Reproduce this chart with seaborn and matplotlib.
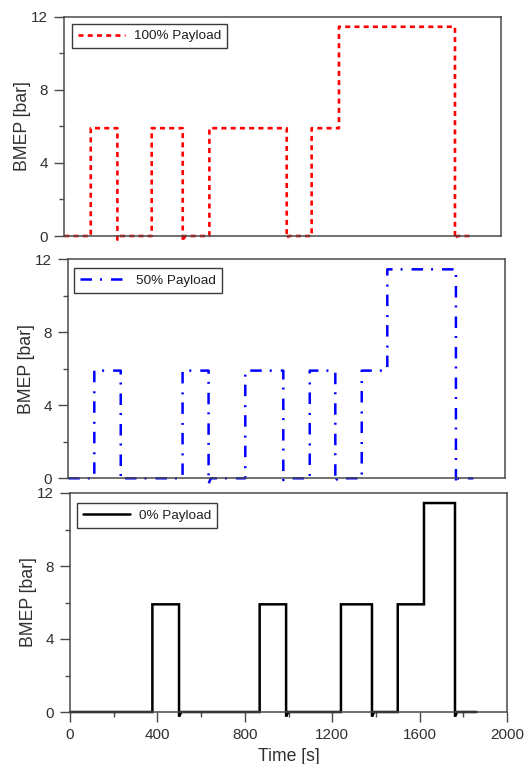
import numpy as np
import pandas as pd
import matplotlib
matplotlib.use("Agg")
import matplotlib.pyplot as plt
import seaborn as sns

# Duty-cycle step profiles: switching instants [s] and BMEP level [bar] held after each switch
t_100 = [121, 243, 400, 542, 664, 1018, 1132, 1257, 1788]
bmep_100 = [5.9, 0, 5.9, 0, 5.9, 0, 5.9, 11.45, 0]
end_100 = 1860

t_50 = [119, 240, 523, 642, 810, 984, 1105, 1222, 1343, 1460, 1774]
bmep_50 = [5.9, 0, 5.9, 0, 5.9, 0, 5.9, 0, 5.9, 11.45, 0]
end_50 = 1854

t_0 = [377, 499, 868, 989, 1240, 1382, 1500, 1620, 1762]
bmep_0 = [5.9, 0, 5.9, 0, 5.9, 0, 5.9, 11.45, 0]
end_0 = 1861

# short negative undershoot recorded right after each load drop
dip_100 = [-0.2, -0.3, -0.1, -0.15]
dip_50 = [-0.1, -0.3, -0.1, -0.2, -0.3]
dip_0 = [-0.25, -0.25, -0.25, -0.25]

labels = ["100% Payload", "50% Payload", "0% Payload"]
x_ticks = [0, 400, 800, 1200, 1600, 2000]
y_ticks = [0, 4, 8, 12]


def step_trace(times, levels, dips, t_end):
    """Build the time trace of a step profile (vertical edges at each switch)."""
    ts, vs = [0.0], [0.0]
    prev = 0.0
    k = 0
    for t, lv in zip(times, levels):
        ts += [t, t]
        vs += [prev, lv]
        if lv == 0 and prev > 0:
            d = dips[k]
            k += 1
            ts[-1], vs[-1] = t, d
            ts += [t + 10]
            vs += [0.0]
        prev = lv
    ts.append(t_end)
    vs.append(prev)
    return pd.DataFrame({"Time": ts, "BMEP": vs})


sns.set_style("ticks")
plt.rcParams["font.family"] = ["Liberation Sans", "DejaVu Sans"]
txt = "#303030"
spine_c = "#4a4a4a"

W, H = 524, 764
fig = plt.figure(figsize=(W / 100, H / 100), dpi=100)


def rect(l, t, r, b):
    return [l / W, 1 - b / H, (r - l) / W, (b - t) / H]


axes = [
    fig.add_axes(rect(64.3, 16.7, 501.3, 236.0)),
    fig.add_axes(rect(68.3, 259.3, 505.3, 478.3)),
    fig.add_axes(rect(70.0, 493.0, 507.0, 712.0)),
]

series = [
    (step_trace(t_100, bmep_100, dip_100, end_100), "#ff0000", (0, (1.9, 1.6)), 1.9),
    (step_trace(t_50, bmep_50, dip_50, end_50), "#0000ff", (0, (4.6, 3.2, 0.8, 3.6)), 1.8),
    (step_trace(t_0, bmep_0, dip_0, end_0), "#000000", "-", 1.8),
]
legend_anchor = [(0.0176, 0.967), (0.013, 0.960), (0.016, 0.954)]

for i, (ax, (df, col, ls, lw), lab) in enumerate(zip(axes, series, labels)):
    sns.lineplot(data=df, x="Time", y="BMEP", estimator=None, sort=False,
                 ax=ax, color=col, lw=lw, label=lab)
    line = ax.lines[-1]
    line.set_linestyle(ls)
    line.set_clip_on(False)
    line.set_solid_joinstyle("miter")

    ax.set_xlim(0, 2000)
    ax.set_ylim(0, 12)
    ax.set_yticks(y_ticks)
    ax.set_yticks([2, 6, 10], minor=True)
    ax.set_xticks(x_ticks)
    ax.set_xticks([200, 600, 1000, 1400, 1800], minor=True)
    ax.tick_params(axis="both", which="major", direction="out", length=7.5,
                   width=1.0, color=spine_c, labelsize=11, labelcolor=txt, pad=4)
    ax.tick_params(axis="both", which="minor", direction="out", length=3.6,
                   width=1.0, color=spine_c)
    for s in ax.spines.values():
        s.set_visible(True)
        s.set_color(spine_c)
        s.set_linewidth(1.1)
    ax.set_ylabel("BMEP [bar]", fontsize=12.7, color=txt, labelpad=0)
    if i < 2:
        ax.tick_params(axis="x", which="both", bottom=False, labelbottom=False)
        ax.set_xlabel("")
    else:
        ax.set_xlabel("Time [s]", fontsize=12.7, color=txt, labelpad=4)

    leg = ax.legend(loc="upper left", bbox_to_anchor=legend_anchor[i],
                    borderaxespad=0, fancybox=False, framealpha=1,
                    edgecolor="#3a3a3a", fontsize=9.7, handlelength=3.5,
                    handletextpad=0.65, borderpad=0.45)
    leg.get_frame().set_linewidth(1.0)
    for t in leg.get_texts():
        t.set_color("#202020")

fig.savefig("out.png", dpi=100)
